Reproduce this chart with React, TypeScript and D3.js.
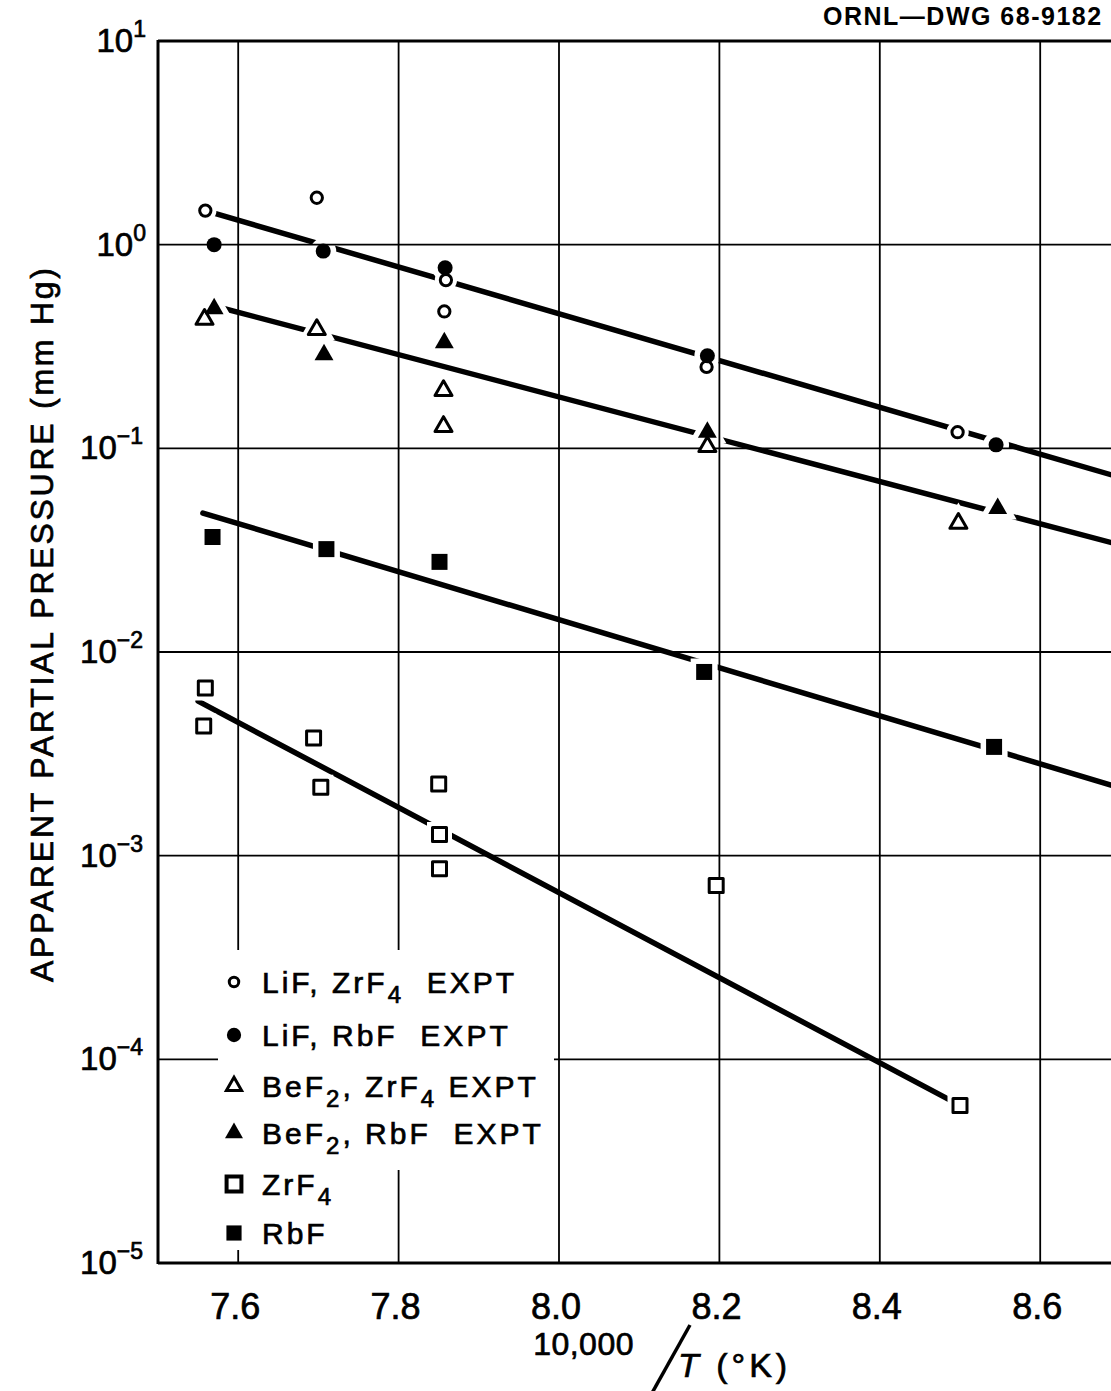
import React from 'react';
import * as d3 from 'd3';

// 10,000/T values and apparent partial pressures (mm Hg)
const lifZrf4 = [[7.559, 1.47], [7.698, 1.70], [7.859, 0.67], [7.857, 0.47], [8.184, 0.251], [8.497, 0.120]];
const lifRbf = [[7.570, 1.0], [7.706, 0.93], [7.858, 0.77], [8.185, 0.285], [8.545, 0.104]];
const bef2Zrf4 = [[7.558, 0.43], [7.698, 0.383], [7.856, 0.192], [7.856, 0.128], [8.185, 0.102], [8.498, 0.0428]];
const bef2Rbf = [[7.570, 0.485], [7.707, 0.288], [7.857, 0.33], [8.185, 0.12], [8.547, 0.0507]];
const rbf = [[7.568, 0.0367], [7.710, 0.032], [7.851, 0.0277], [8.181, 0.00798], [8.5425, 0.00342]];
const zrf4 = [[7.559, 0.00666], [7.557, 0.00433], [7.694, 0.00378], [7.703, 0.00217], [7.850, 0.00225],
  [7.851, 0.00127], [7.851, 0.000863], [8.196, 0.000713], [8.5, 5.94e-5]];

// fitted lines (end points)
const fitLif = [[7.559, 1.47], [8.8, 0.0552]];
const fitBef2 = [[7.570, 0.50], [8.8, 0.0264]];
const fitRbf = [[7.556, 0.0481], [8.8, 0.00164]];
const fitZrf4 = [[7.550, 0.00574], [8.5, 5.94e-5]];

const xGrid = [7.6, 7.8, 8.0, 8.2, 8.4, 8.6, 8.8];
const xTickLabels = ['7.6', '7.8', '8.0', '8.2', '8.4', '8.6'];
const yExponents = [1, 0, -1, -2, -3, -4, -5];

const FONT = '"Liberation Sans", Arial, sans-serif';

export default function App() {
  const width = 1111;
  const height = 1391;
  const left = 158, top = 41, bottom = 1263;

  const x = d3.scaleLinear().domain([7.5, 8.8]).range([left, left + 1.3 * 802]);
  const y = d3.scaleLog().domain([1e-5, 10]).range([bottom, top]);
  const line = d3.line<number[]>().x(d => x(d[0])).y(d => y(d[1]));

  const sym = (type: any, size: number) => d3.symbol().type(type).size(size)() as string;

  const series = [
    { data: lifZrf4, d: sym(d3.symbolCircle, 100), filled: false },
    { data: lifRbf, d: sym(d3.symbolCircle, 177), filled: true },
    { data: bef2Zrf4, d: sym(d3.symbolTriangle, 125), filled: false },
    { data: bef2Rbf, d: sym(d3.symbolTriangle, 155), filled: true },
    { data: zrf4, d: sym(d3.symbolSquare, 196), filled: false },
    { data: rbf, d: sym(d3.symbolSquare, 256), filled: true },
  ];

  const legendSyms = [
    { d: sym(d3.symbolCircle, 70), filled: false, sw: 3 },
    { d: sym(d3.symbolCircle, 160), filled: true, sw: 0 },
    { d: sym(d3.symbolTriangle, 100), filled: false, sw: 3 },
    { d: sym(d3.symbolTriangle, 140), filled: true, sw: 0 },
    { d: sym(d3.symbolSquare, 220), filled: false, sw: 4 },
    { d: sym(d3.symbolSquare, 230), filled: true, sw: 0 },
  ];
  const legendBaselines = [993, 1046, 1097, 1144, 1195, 1244];

  const legendText = [
    <>LiF, ZrF<tspan dy={10} fontSize={24}>4</tspan><tspan dy={-10}>  EXPT</tspan></>,
    <>LiF, RbF  EXPT</>,
    <>BeF<tspan dy={10} fontSize={24}>2</tspan><tspan dy={-10}>, ZrF</tspan><tspan dy={10} fontSize={24}>4</tspan><tspan dy={-10}> EXPT</tspan></>,
    <>BeF<tspan dy={10} fontSize={24}>2</tspan><tspan dy={-10}>, RbF  EXPT</tspan></>,
    <>ZrF<tspan dy={10} fontSize={24}>4</tspan></>,
    <>RbF</>,
  ];

  const fits = [fitLif, fitBef2, fitRbf, fitZrf4];
  const ink = { stroke: '#000', strokeWidth: 0.7 };

  return (
    <svg width={width} height={height} style={{ position: 'absolute', left: 0, top: 0, background: '#fff' }}
      fontFamily={FONT}>
      <rect x={0} y={0} width={width} height={height} fill="#fff" />

      {/* fitted lines */}
      {fits.map((f, i) => (
        <path key={i} d={line(f) as string} fill="none" stroke="#000" strokeWidth={5.5} strokeLinecap="round" />
      ))}

      {/* white halos that break the lines around the points */}
      {series.map((s, i) => s.data.map((p, j) => (
        <path key={`h${i}-${j}`} d={s.d} transform={`translate(${x(p[0])},${y(p[1])})`}
          fill="#fff" stroke="#fff" strokeWidth={11} />
      )))}

      {/* grid */}
      {xGrid.map(v => (
        <line key={`gx${v}`} x1={x(v)} x2={x(v)} y1={top} y2={bottom} stroke="#000" strokeWidth={1.8} />
      ))}
      {yExponents.map(e => (
        <line key={`gy${e}`} x1={left} x2={width} y1={y(Math.pow(10, e))} y2={y(Math.pow(10, e))}
          stroke="#000" strokeWidth={e === 1 || e === -5 ? 3 : 1.8} />
      ))}
      <line x1={left} x2={left} y1={top - 1} y2={bottom + 1} stroke="#000" strokeWidth={3} />

      {/* points */}
      {series.map((s, i) => s.data.map((p, j) => (
        <path key={`p${i}-${j}`} d={s.d} transform={`translate(${x(p[0])},${y(p[1])})`}
          fill={s.filled ? '#000' : '#fff'} stroke="#000" strokeWidth={s.filled ? 0 : 3}
          strokeLinejoin="round" />
      )))}

      {/* legend */}
      <rect x={218} y={950} width={336} height={220} fill="#fff" />
      <rect x={218} y={1170} width={125} height={80} fill="#fff" />
      {legendSyms.map((s, i) => (
        <path key={`ls${i}`} d={s.d} transform={`translate(234,${legendBaselines[i] - 11})`}
          fill={s.filled ? '#000' : '#fff'} stroke="#000" strokeWidth={s.sw} />
      ))}
      {legendText.map((t, i) => (
        <text key={`lt${i}`} x={262} y={legendBaselines[i]} fontSize={30} letterSpacing={3}
          style={{ whiteSpace: 'pre' }} {...ink}>{t}</text>
      ))}

      {/* y tick labels */}
      {yExponents.map(e => (
        <text key={`yl${e}`} x={e >= 0 ? 146 : 143} y={y(Math.pow(10, e)) + 11} textAnchor="end" fontSize={33} {...ink}>
          10<tspan dy={-15} fontSize={23}>{e < 0 ? '\u2212' + (-e) : String(e)}</tspan>
        </text>
      ))}

      {/* x tick labels */}
      {xTickLabels.map((l, i) => (
        <text key={`xl${l}`} x={x(xGrid[i]) - 3} y={1319} textAnchor="middle" fontSize={36} {...ink}>{l}</text>
      ))}

      {/* axis titles */}
      <text x={634} y={1355} textAnchor="end" fontSize={32} letterSpacing={0.5} {...ink}>10,000</text>
      <line x1={690} y1={1325} x2={652} y2={1393} stroke="#000" strokeWidth={3.5} />
      <text x={678} y={1377} fontSize={34} letterSpacing={4} style={{ whiteSpace: 'pre' }} {...ink}>
        <tspan fontStyle="italic">T</tspan> (°K)
      </text>
      <text transform="translate(53,625) rotate(-90)" textAnchor="middle" fontSize={32}
        textLength={714} lengthAdjust="spacing" {...ink}>APPARENT PARTIAL PRESSURE (mm Hg)</text>

      <text x={823} y={25} fontSize={25} fontWeight="bold" letterSpacing={1.5}>ORNL—DWG 68-9182</text>
    </svg>
  );
}
